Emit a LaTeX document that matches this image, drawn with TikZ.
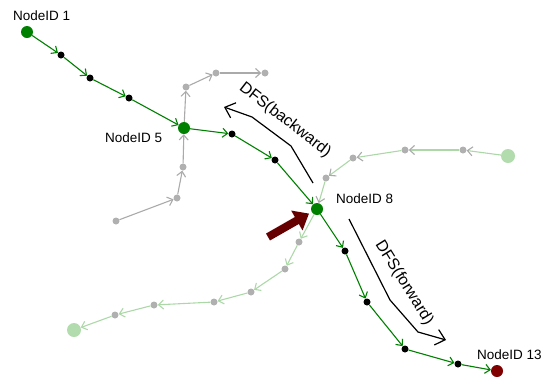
\documentclass[tikz,border=0pt]{standalone}
\usepackage{fontspec}
\setmainfont{Liberation Sans}
\usetikzlibrary{arrows.meta}
\definecolor{pathgreen}{RGB}{0,128,0}
\definecolor{endred}{RGB}{128,0,0}
\definecolor{pointred}{RGB}{102,0,0}
\definecolor{dotgray}{RGB}{176,176,176}
\definecolor{linegray}{RGB}{170,170,170}
\definecolor{palegreen}{RGB}{178,220,174}
\definecolor{palelink}{RGB}{172,216,168}
\tikzset{
  bigdot/.style={circle,inner sep=0pt,minimum size=12pt,fill=pathgreen},
  enddot/.style={circle,inner sep=0pt,minimum size=12pt,fill=endred},
  leafdot/.style={circle,inner sep=0pt,minimum size=14pt,fill=palegreen},
  blackdot/.style={circle,inner sep=0pt,minimum size=7pt,fill=black},
  graydot/.style={circle,inner sep=0pt,minimum size=7pt,fill=dotgray},
  tip/.style={-{Straight Barb[length=5pt,width=9pt]}},
  mainlink/.style={tip,draw=pathgreen,line width=1.1pt},
  graylink/.style={tip,draw=linegray,line width=1.1pt},
  palelink/.style={tip,draw=palelink,line width=1.1pt},
  palegraylink/.style={-{Straight Barb[length=5pt,width=9pt,color=linegray]},draw=palelink,line width=1.1pt},
  label/.style={font=\fontsize{13.5}{16}\selectfont,anchor=base west,inner sep=0pt},
  dfs/.style={font=\fontsize{16}{19}\selectfont,inner sep=0pt},
  sweep/.style={draw=black,line width=1.2pt,-{Straight Barb[length=9pt,width=16pt]}},
}
\begin{document}
\begin{tikzpicture}[x=1pt,y=-1pt]
\useasboundingbox (0,0) rectangle (545,378);

% main traversal path
\node[bigdot] (n1) at (27,32) {};
\node[blackdot] (a1) at (61,55) {};
\node[blackdot] (a2) at (90,78) {};
\node[blackdot] (a3) at (129,98) {};
\node[bigdot] (n5) at (184,128) {};
\node[blackdot] (b1) at (232,134) {};
\node[blackdot] (b2) at (275,160) {};
\node[bigdot] (n8) at (317,209) {};
\node[blackdot] (c1) at (345,251) {};
\node[blackdot] (c2) at (367,302) {};
\node[blackdot] (c3) at (405,349) {};
\node[blackdot] (c4) at (458,364) {};
\node[enddot] (n13) at (497,371) {};

% grey side branches at NodeID 5
\node[graydot] (g1) at (186,87) {};
\node[graydot] (g2) at (216,73) {};
\node[graydot] (g3) at (265,73) {};
\node[graydot] (h1) at (116,221) {};
\node[graydot] (h2) at (177,198) {};
\node[graydot] (h3) at (183,167) {};

% pale branches at NodeID 8
\node[leafdot] (l1) at (508,156) {};
\node[graydot] (t1) at (463,150) {};
\node[graydot] (t2) at (405,150) {};
\node[graydot] (t3) at (353,158) {};
\node[graydot] (t4) at (326,178) {};
\node[graydot] (s1) at (299,242) {};
\node[graydot] (s2) at (285,269) {};
\node[graydot] (s3) at (251,292) {};
\node[graydot] (s4) at (214,302) {};
\node[graydot] (s5) at (154,305) {};
\node[graydot] (s6) at (115,315) {};
\node[leafdot] (l2) at (74,330) {};

% links
\foreach \u/\v in {n1/a1,a1/a2,a2/a3,a3/n5,n5/b1,b1/b2,b2/n8,n8/c1,c1/c2,c2/c3,c3/c4,c4/n13}
  \draw[mainlink] (\u) -- (\v);
\foreach \u/\v in {n5/g1,g1/g2,g2/g3,h1/h2,h2/h3,h3/n5}
  \draw[graylink] (\u) -- (\v);
\foreach \u/\v in {l1/t1,t1/t2,t2/t3,t3/t4,t4/n8}
  \draw[palegraylink] (\u) -- (\v);
\foreach \u/\v in {n8/s1,s1/s2,s2/s3,s3/s4,s4/s5,s5/s6,s6/l2}
  \draw[palelink] (\u) -- (\v);

% labels
\node[label] (lab1) at (13,20) {NodeID 1};
\node[label] (lab5) at (105,142) {NodeID 5};
\node[label] (lab8) at (336,203) {NodeID 8};
\node[label] (lab13) at (477,359) {NodeID 13};

% pointer to the start node
\coordinate (ptr) at (268,237);
\draw[pointred,line width=8pt,shorten >=3pt,-{Triangle[length=14pt,width=22pt]}] (ptr) -- (n8);

% search directions
\coordinate (bw0) at (313,183);
\coordinate (bw1) at (291,146);
\coordinate (bw2) at (252,117);
\coordinate (bw3) at (224,107);
\draw[sweep] (bw0) -- (bw1) -- (bw2) -- (bw3);
\node[dfs,rotate=-38] (bwlab) at (285,120) {DFS(backward)};

\coordinate (fw0) at (349,219);
\coordinate (fw1) at (390,300);
\coordinate (fw2) at (418,332);
\coordinate (fw3) at (446,340);
\draw[sweep] (fw0) -- (fw1) -- (fw2) -- (fw3);
\node[dfs,rotate=-58] (fwlab) at (404,283) {DFS(forward)};
\end{tikzpicture}
\end{document}
